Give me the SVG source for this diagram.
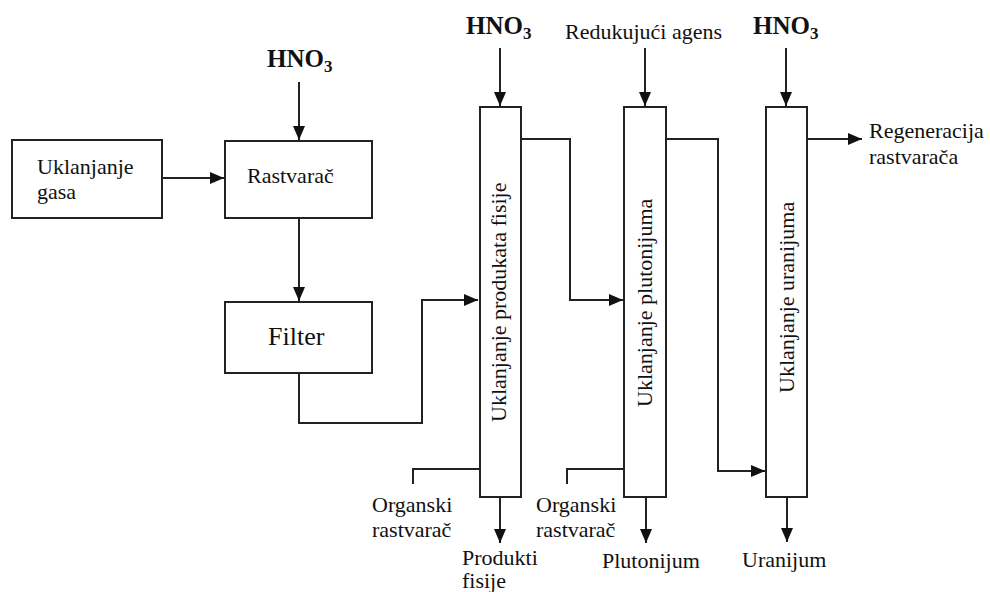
<svg xmlns="http://www.w3.org/2000/svg" width="990" height="592" viewBox="0 0 990 592">
<style>
.box{fill:#fff;stroke:#222;stroke-width:2}
.ln{fill:none;stroke:#222;stroke-width:2}
.t{font-family:"Liberation Serif","Times New Roman",serif;font-size:22px;fill:#111}
.h{font-family:"Liberation Serif","Times New Roman",serif;font-size:25px;font-weight:bold;fill:#111}
.s{font-size:17px}
</style>
<defs>
<marker id="ar" markerUnits="userSpaceOnUse" markerWidth="15" markerHeight="12" refX="14" refY="6" orient="auto">
<path d="M0,0 L14,6 L0,12 z" fill="#111"/>
</marker>
</defs>
<rect width="990" height="592" fill="#fff"/>
<g id="connectors">
<line class="ln" x1="299" y1="82" x2="299" y2="140" marker-end="url(#ar)"/>
<line class="ln" x1="162" y1="178" x2="224" y2="178" marker-end="url(#ar)"/>
<line class="ln" x1="299" y1="218" x2="299" y2="301" marker-end="url(#ar)"/>
<polyline class="ln" points="299,373 299,423 422,423 422,300 478,300" marker-end="url(#ar)"/>
<line class="ln" x1="500" y1="48" x2="500" y2="106" marker-end="url(#ar)"/>
<line class="ln" x1="645" y1="48" x2="645" y2="106" marker-end="url(#ar)"/>
<line class="ln" x1="786" y1="48" x2="786" y2="106" marker-end="url(#ar)"/>
<polyline class="ln" points="521,139 570,139 570,300 623,300" marker-end="url(#ar)"/>
<polyline class="ln" points="666,139 718,139 718,471 765,471" marker-end="url(#ar)"/>
<line class="ln" x1="808" y1="139" x2="862" y2="139" marker-end="url(#ar)"/>
<polyline class="ln" points="480,469 413,469 413,484"/>
<polyline class="ln" points="624,469 567,469 567,484"/>
<line class="ln" x1="500" y1="497" x2="500" y2="543" marker-end="url(#ar)"/>
<line class="ln" x1="646" y1="497" x2="646" y2="543" marker-end="url(#ar)"/>
<line class="ln" x1="787" y1="497" x2="787" y2="542" marker-end="url(#ar)"/>
</g>
<g id="gasa">
<rect class="box" x="12" y="140" width="150" height="78"/>
<text class="t" x="37" y="174">Uklanjanje</text>
<text class="t" x="37" y="199">gasa</text>
</g>
<g id="rastvarac">
<rect class="box" x="225" y="141" width="147" height="77"/>
<text class="t" x="247" y="183">Rastvarač</text>
</g>
<g id="filter">
<rect class="box" x="225" y="302" width="147" height="71"/>
<text class="t" x="268" y="345" style="font-size:26px">Filter</text>
</g>
<g id="col1">
<rect class="box" x="480" y="107" width="41" height="390"/>
<text class="t" transform="translate(506,422) rotate(-90)">Uklanjanje produkata fisije</text>
</g>
<g id="col2">
<rect class="box" x="624" y="107" width="42" height="390"/>
<text class="t" transform="translate(652,407) rotate(-90)">Uklanjanje plutonijuma</text>
</g>
<g id="col3">
<rect class="box" x="766" y="107" width="41" height="390"/>
<text class="t" transform="translate(794,393) rotate(-90)">Uklanjanje uranijuma</text>
</g>
<g id="labels">
<text class="h" x="267" y="67">HNO<tspan class="s" dy="5">3</tspan></text>
<text class="h" x="466" y="34">HNO<tspan class="s" dy="5">3</tspan></text>
<text class="h" x="753" y="34">HNO<tspan class="s" dy="5">3</tspan></text>
<text class="t" x="565" y="39">Redukujući agens</text>
<text class="t" x="869" y="138">Regeneracija</text>
<text class="t" x="869" y="164">rastvarača</text>
<text class="t" x="372" y="512">Organski</text>
<text class="t" x="372" y="537">rastvarač</text>
<text class="t" x="536" y="512">Organski</text>
<text class="t" x="536" y="537">rastvarač</text>
<text class="t" x="462" y="565">Produkti</text>
<text class="t" x="462" y="588">fisije</text>
<text class="t" x="602" y="568">Plutonijum</text>
<text class="t" x="742" y="567">Uranijum</text>
</g>
</svg>
